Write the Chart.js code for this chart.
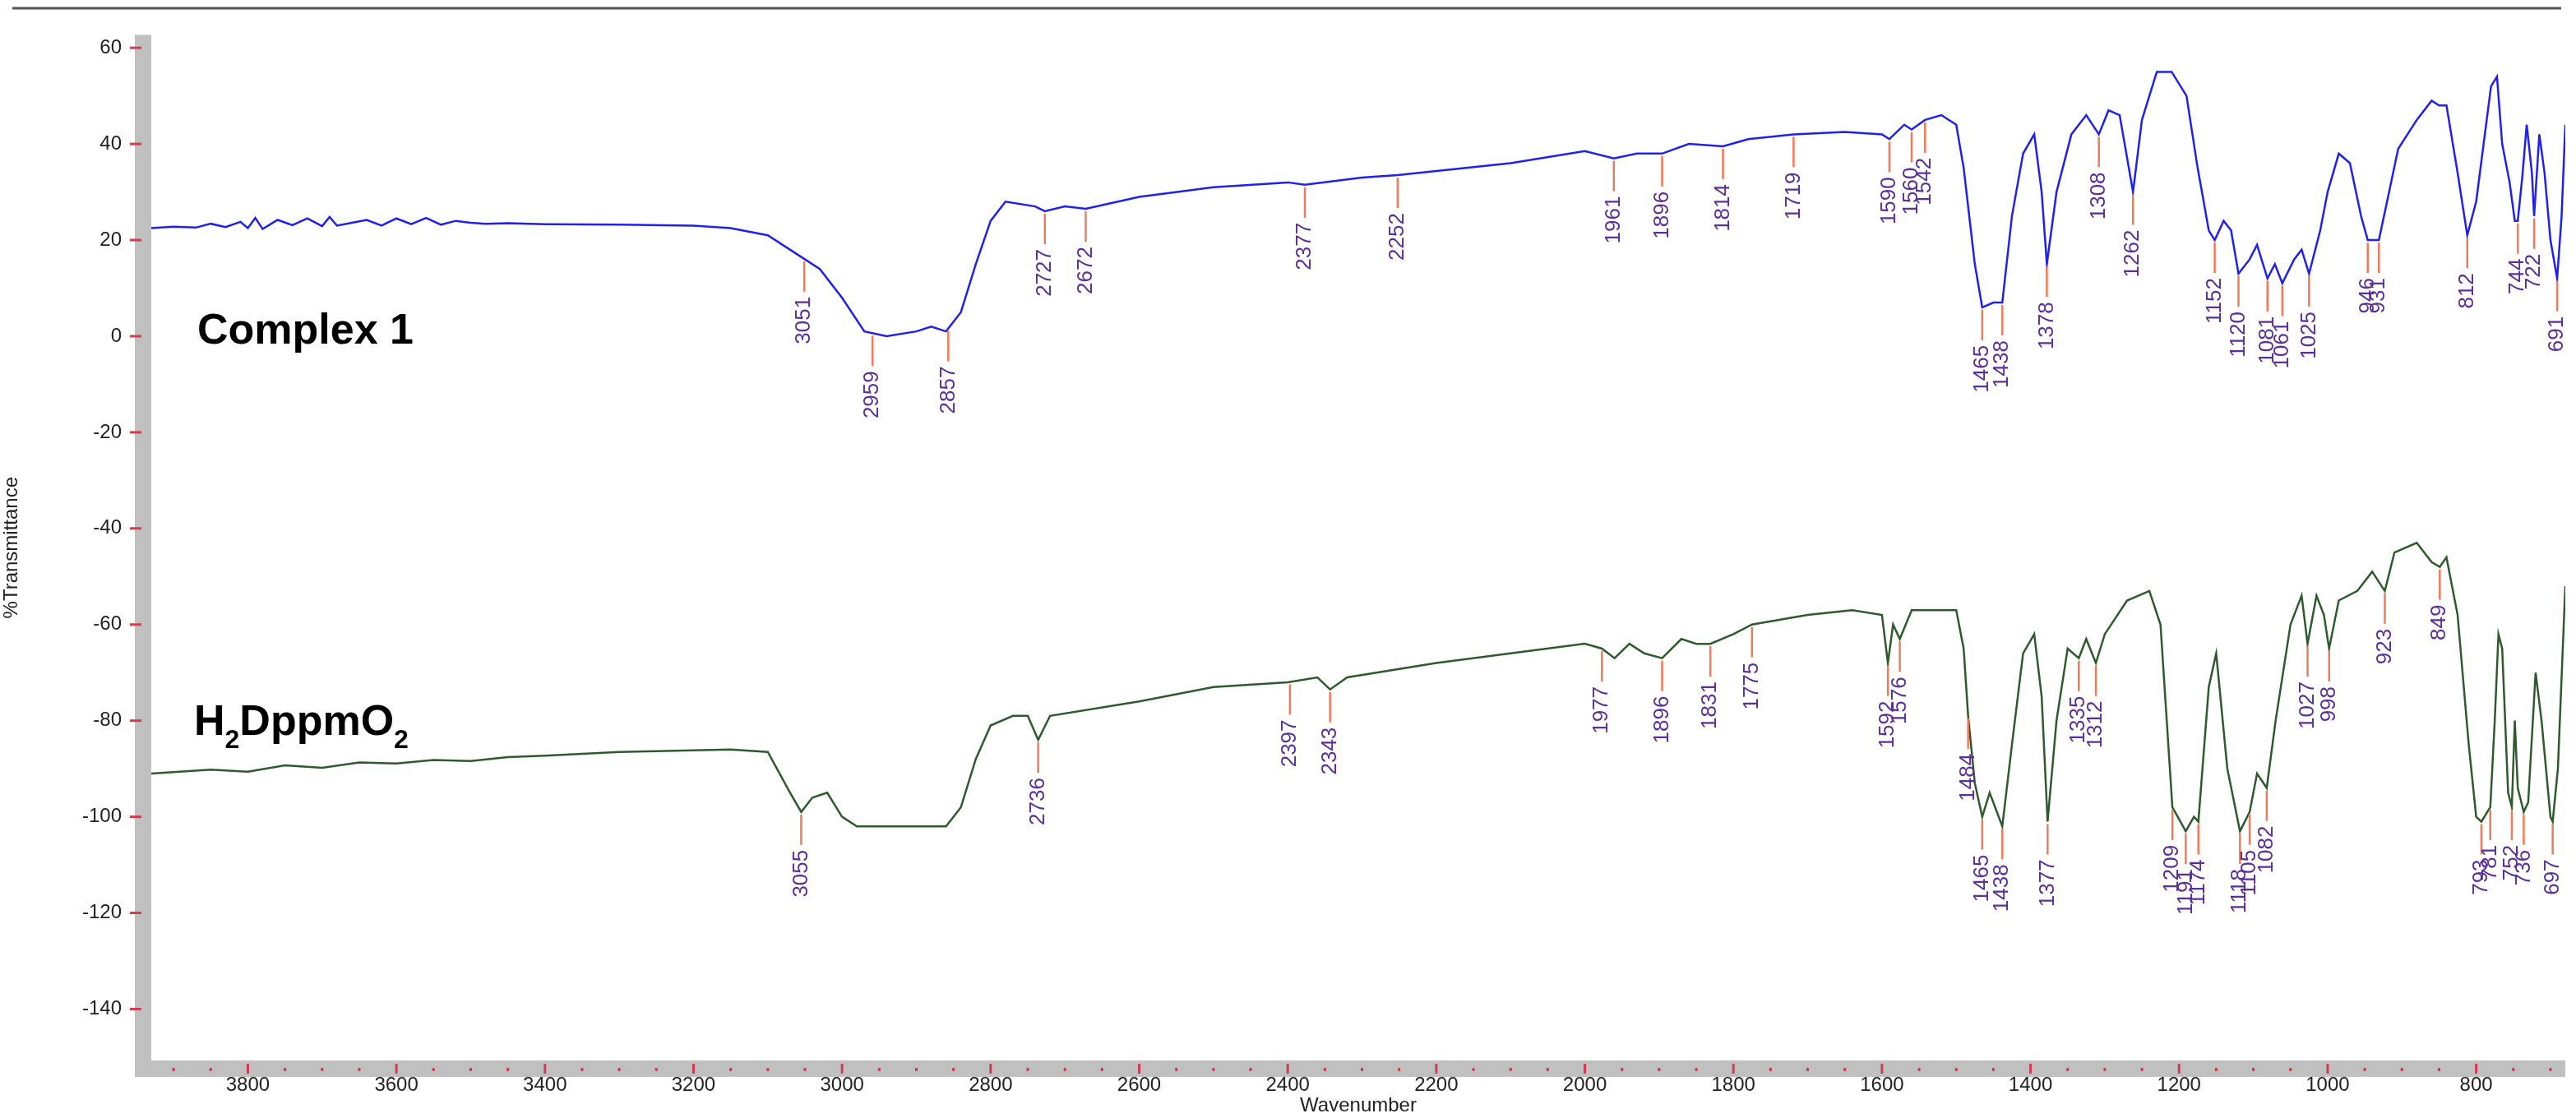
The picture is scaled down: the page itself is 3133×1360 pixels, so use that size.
<!DOCTYPE html>
<html>
<head>
<meta charset="utf-8">
<script src="https://cdn.jsdelivr.net/npm/chart.js@4/dist/chart.umd.min.js"></script>
<style>
  html, body { margin: 0; padding: 0; background: #fff; }
  #wrap { width: 3133px; height: 1360px; position: relative; }
</style>
</head>
<body>
<div id="wrap"><canvas id="irChart"></canvas></div>
<script>
// Complex 1 spectrum (wavenumber / %T)
const wnComplex = [3930,3900,3870,3850,3830,3810,3800,3790,3780,3760,3740,3720,3700,3690,3680,3660,3640,3620,3600,3580,3560,3540,3520,3500,3480,3450,3400,3300,3200,3150,3100,3060,3030,3000,2970,2940,2900,2880,2860,2840,2820,2800,2780,2740,2727,2700,2672,2600,2500,2400,2377,2300,2252,2100,2000,1961,1930,1896,1860,1814,1780,1719,1650,1600,1590,1570,1560,1542,1520,1500,1490,1475,1465,1450,1438,1425,1410,1395,1385,1378,1365,1345,1325,1308,1295,1280,1262,1250,1230,1210,1190,1175,1160,1152,1140,1130,1120,1105,1095,1081,1071,1061,1045,1035,1025,1010,1000,985,970,955,946,931,920,905,880,860,850,840,825,812,800,790,780,772,765,755,748,744,738,732,725,722,715,708,700,691,685,680];
const trComplex = [22.5,22.8,22.6,23.4,22.7,23.8,22.5,24.6,22.3,24.2,23.1,24.5,22.9,24.8,23.0,23.6,24.2,23.0,24.5,23.3,24.6,23.2,24.0,23.6,23.4,23.5,23.3,23.2,23.0,22.5,21,17,14,8,1,0,1,2,1,5,15,24,28,27,26,27,26.5,29,31,32,31.5,33,33.5,36,38.5,37,38,38,40,39.5,41,42,42.5,42,41,44,43,45,46,44,35,15,6,7,7,25,38,42,30,15,30,42,46,42,47,46,30,45,55,55,50,35,22,20,24,22,13,16,19,12,15,11,16,18,13,22,30,38,36,25,20,20,28,39,45,49,48,48,34,21,28,40,52,54,40,32,24,24,33,44,34,25,42,34,20,12,25,44];
const peaksComplex = [3051,2959,2857,2727,2672,2377,2252,1961,1896,1814,1719,1590,1560,1542,1465,1438,1378,1308,1262,1152,1120,1081,1061,1025,946,931,812,744,722,691];

// H2DppmO2 spectrum
const wnLigand = [3930,3850,3800,3750,3700,3650,3600,3550,3500,3450,3400,3300,3150,3100,3070,3055,3040,3020,3000,2980,2900,2860,2840,2820,2800,2770,2750,2736,2720,2600,2500,2400,2360,2343,2320,2200,2000,1977,1960,1940,1920,1896,1870,1850,1831,1800,1775,1700,1640,1600,1592,1585,1576,1560,1500,1490,1484,1475,1465,1455,1438,1425,1410,1395,1385,1377,1365,1350,1335,1325,1312,1300,1270,1240,1225,1209,1191,1180,1174,1160,1150,1135,1118,1105,1095,1082,1070,1050,1035,1027,1015,1005,998,985,960,940,923,910,880,860,849,840,825,810,800,793,781,775,770,765,757,752,748,744,736,730,720,712,700,697,690,680];
const trLigand = [-91,-90.2,-90.6,-89.3,-89.8,-88.7,-88.9,-88.2,-88.4,-87.6,-87.3,-86.5,-86,-86.5,-95,-99,-96,-95,-100,-102,-102,-102,-98,-88,-81,-79,-79,-84,-79,-76,-73,-72,-71,-73.5,-71,-68,-64,-65,-67,-64,-66,-67,-63,-64,-64,-62,-60,-58,-57,-58,-68,-60,-63,-57,-57,-65,-79,-93,-100,-95,-102,-85,-66,-62,-75,-101,-80,-65,-67,-63,-68,-62,-55,-53,-60,-98,-103,-100,-101,-73,-66,-90,-103,-99,-91,-94,-80,-60,-54,-64,-54,-58,-65,-55,-53,-49,-53,-45,-43,-47,-48,-46,-58,-85,-100,-101,-98,-80,-62,-65,-95,-98,-80,-94,-99,-97,-70,-80,-100,-101,-90,-52];
const peaksLigand = [3055,2736,2397,2343,1977,1896,1831,1775,1592,1576,1484,1465,1438,1377,1335,1312,1209,1191,1174,1118,1105,1082,1027,998,923,849,793,781,752,736,697];

const xTicks = [3800,3600,3400,3200,3000,2800,2600,2400,2200,2000,1800,1600,1400,1200,1000,800];
const yTicks = [60,40,20,0,-20,-40,-60,-80,-100,-120,-140];

function toPoints(xs, ys) { return xs.map((x, i) => ({ x: x, y: ys[i] })); }

function valueAt(xs, ys, w) {
    for (let i = 0; i < xs.length - 1; i++) {
        if (w <= xs[i] && w >= xs[i + 1]) {
            const t = (xs[i] - w) / (xs[i] - xs[i + 1]);
            return ys[i] + t * (ys[i + 1] - ys[i]);
        }
    }
    return ys[ys.length - 1];
}

const frame = {
    id: 'frame',
    beforeDraw(chart) {
        const c = chart.ctx, a = chart.chartArea;
        c.save();
        c.fillStyle = '#c0c0c0';
        c.fillRect(a.left - 20, a.top, 20, a.bottom - a.top + 20);
        c.fillRect(a.left - 20, a.bottom, a.right - a.left + 20, 20);
        c.strokeStyle = '#555';
        c.lineWidth = 3;
        c.beginPath(); c.moveTo(15, 10); c.lineTo(3115, 10); c.stroke();
        // red ticks
        const x = chart.scales.x, y = chart.scales.y;
        c.strokeStyle = '#d23c50';
        c.lineWidth = 3;
        yTicks.forEach(v => {
            const py = y.getPixelForValue(v);
            c.beginPath(); c.moveTo(a.left - 26, py); c.lineTo(a.left - 12, py); c.stroke();
        });
        for (let v = 3900; v >= 700; v -= 50) {
            const px = x.getPixelForValue(v);
            c.beginPath();
            if (v % 200 === 0) { c.moveTo(px, a.bottom + 4); c.lineTo(px, a.bottom + 16); }
            else { c.moveTo(px, a.bottom + 9); c.lineTo(px, a.bottom + 13); }
            c.stroke();
        }
        c.restore();
    },
    afterDraw(chart) {
        const c = chart.ctx, x = chart.scales.x, y = chart.scales.y;
        c.save();
        const sets = [[wnComplex, trComplex, peaksComplex], [wnLigand, trLigand, peaksLigand]];
        sets.forEach(s => {
            s[2].forEach(p => {
                const px = x.getPixelForValue(p);
                const py = y.getPixelForValue(valueAt(s[0], s[1], p));
                c.strokeStyle = '#f07a5a';
                c.lineWidth = 2.5;
                c.beginPath(); c.moveTo(px, py + 3); c.lineTo(px, py + 40); c.stroke();
                c.save();
                c.translate(px, py + 46);
                c.rotate(-Math.PI / 2);
                c.fillStyle = '#5a2f9c';
                c.font = '26px "Liberation Sans", Arial, sans-serif';
                c.textAlign = 'right';
                c.textBaseline = 'middle';
                c.fillText(String(p), 0, 0);
                c.restore();
            });
        });
        // sample names
        c.fillStyle = '#000';
        c.font = 'bold 52px "Liberation Sans", Arial, sans-serif';
        c.textBaseline = 'alphabetic';
        c.fillText('Complex 1', 240, 418);
        let tx = 236;
        const parts = [['H', 0], ['2', 1], ['DppmO', 0], ['2', 1]];
        parts.forEach(pt => {
            c.font = pt[1] ? 'bold 32px "Liberation Sans", Arial, sans-serif' : 'bold 52px "Liberation Sans", Arial, sans-serif';
            c.fillText(pt[0], tx, pt[1] ? 910 : 894);
            tx += c.measureText(pt[0]).width;
        });
        c.restore();
    }
};

new Chart(document.getElementById('irChart'), {
    type: 'line',
    data: {
        datasets: [
            { label: 'Complex 1', data: toPoints(wnComplex, trComplex), borderColor: '#2020f0', borderWidth: 2.5, pointRadius: 0, tension: 0 },
            { label: 'H2DppmO2', data: toPoints(wnLigand, trLigand), borderColor: '#2e5a2e', borderWidth: 2.5, pointRadius: 0, tension: 0 }
        ]
    },
    options: {
        responsive: true,
        maintainAspectRatio: false,
        animation: false,
        layout: { padding: { left: 0, right: 13, top: 10, bottom: 0 } },
        scales: {
            x: {
                type: 'linear', reverse: true, min: 680, max: 3930,
                grid: { display: false }, border: { display: false },
                afterBuildTicks: s => { s.ticks = xTicks.map(v => ({ value: v })); },
                afterFit: s => { s.height = 70; },
                ticks: { color: '#222', font: { size: 24, family: 'Liberation Sans' }, padding: 8, maxRotation: 0, callback: v => String(v) },
                title: { display: true, text: 'Wavenumber', color: '#222', font: { size: 24, family: 'Liberation Sans' }, padding: 0 }
            },
            y: {
                min: -150.7, max: 62.7,
                grid: { display: false }, border: { display: false },
                afterBuildTicks: s => { s.ticks = yTicks.map(v => ({ value: v })); },
                afterFit: s => { s.width = 184; },
                ticks: { color: '#222', font: { size: 24, family: 'Liberation Sans' }, padding: 28 },
                title: { display: true, text: '%Transmittance', color: '#222', font: { size: 24, family: 'Liberation Sans' }, padding: 0 }
            }
        },
        plugins: { legend: { display: false }, tooltip: { enabled: false } }
    },
    plugins: [frame]
});
</script>
</body>
</html>
